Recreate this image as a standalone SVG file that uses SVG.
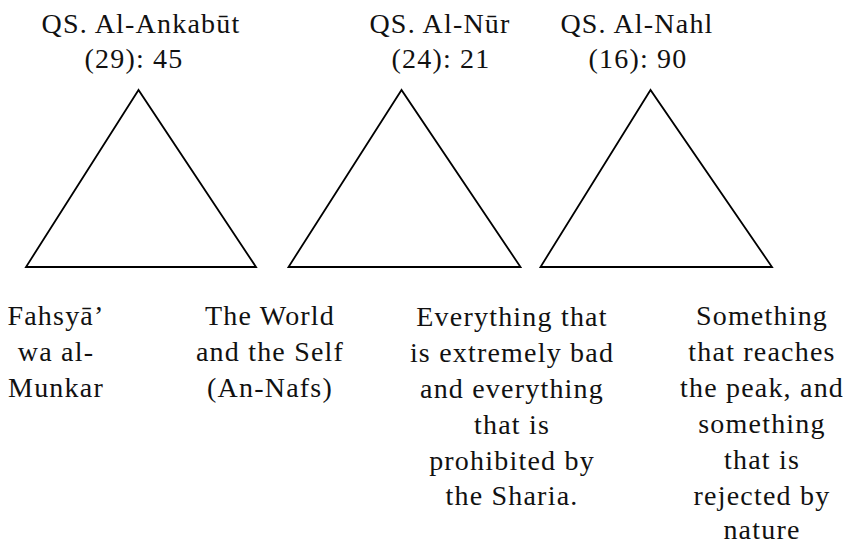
<svg xmlns="http://www.w3.org/2000/svg" width="848" height="544" viewBox="0 0 848 544">
  <style>
    .tri { fill: none; stroke: #000; stroke-width: 1.8; stroke-linejoin: miter; }
    .t { font-family: 'Liberation Serif', 'DejaVu Serif', serif; font-size: 28px; letter-spacing: 1.2px; fill: #111; text-anchor: middle; }
  </style>
  <rect width="848" height="544" fill="#fff"/>
  <g id="ankabut" font-family="Liberation Serif, DejaVu Serif, serif">
    <polygon class="tri" points="138.5,90 26,267 256,267"/>
    <text class="t" x="141" y="33">QS. Al-Ankabūt</text>
    <text class="t" x="134" y="68">(29): 45</text>
    <text class="t" x="56" y="325">Fahsyā’</text>
    <text class="t" x="56" y="361">wa al-</text>
    <text class="t" x="56" y="397">Munkar</text>
    <text class="t" x="270" y="325">The World</text>
    <text class="t" x="270" y="361">and the Self</text>
    <text class="t" x="270" y="397">(An-Nafs)</text>
  </g>
  <g id="nur" font-family="Liberation Serif, DejaVu Serif, serif">
    <polygon class="tri" points="401.5,90 288.5,267 520.5,267"/>
    <text class="t" x="440" y="33">QS. Al-Nūr</text>
    <text class="t" x="441" y="68">(24): 21</text>
    <text class="t" x="512" y="326">Everything that</text>
    <text class="t" x="512" y="362">is extremely bad</text>
    <text class="t" x="512" y="398">and everything</text>
    <text class="t" x="512" y="434">that is</text>
    <text class="t" x="512" y="470">prohibited by</text>
    <text class="t" x="512" y="505">the Sharia.</text>
  </g>
  <g id="nahl" font-family="Liberation Serif, DejaVu Serif, serif">
    <polygon class="tri" points="650.5,90 540.5,267 772,267"/>
    <text class="t" x="637" y="33">QS. Al-Nahl</text>
    <text class="t" x="638" y="68">(16): 90</text>
    <text class="t" x="762" y="325">Something</text>
    <text class="t" x="762" y="361">that reaches</text>
    <text class="t" x="762" y="397">the peak, and</text>
    <text class="t" x="762" y="433">something</text>
    <text class="t" x="762" y="469">that is</text>
    <text class="t" x="762" y="505">rejected by</text>
    <text class="t" x="762" y="539">nature</text>
  </g>
  <g id="connectors"/>
</svg>
